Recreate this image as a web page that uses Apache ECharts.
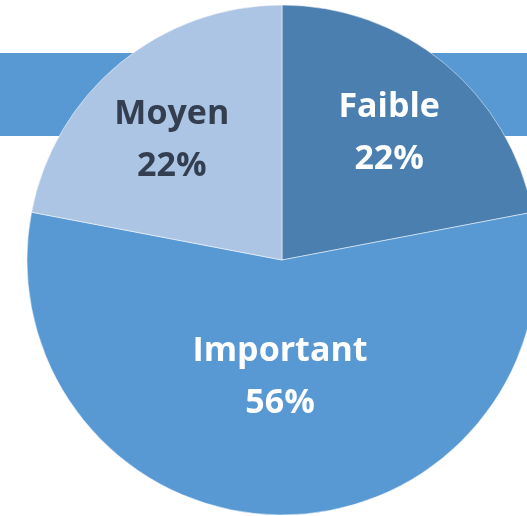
<!DOCTYPE html>
<html>
<head>
<meta charset="utf-8">
<script src="https://cdn.jsdelivr.net/npm/echarts@6/dist/echarts.min.js"></script>
<style>
  html, body { margin: 0; padding: 0; background: #fff; }
  #chart { width: 527px; height: 516px; }
</style>
</head>
<body>
<div id="chart"></div>
<script>
var names = ['Faible', 'Important', 'Moyen'];
var values = [22, 56, 22];
var colors = ['#4a7fb0', '#5899d4', '#adc5e5'];
var labelColors = ['#ffffff', '#ffffff', '#333f50'];
// decalage des etiquettes par rapport a la position "inside"
var labelOffsets = [[24, -26], [-2, -13], [-27, -19]];

var myChart = echarts.init(document.getElementById('chart'));

var option = {
  animation: false,
  graphic: [
    {
      type: 'rect',
      z: -10,
      shape: { x: 0, y: 53, width: 527, height: 83 },
      style: { fill: '#5899d4' }
    }
  ],
  series: [
    {
      type: 'pie',
      center: [282, 260],
      radius: 255,
      startAngle: 90,
      clockwise: true,
      itemStyle: { borderColor: '#ffffff', borderWidth: 0.5 },
      label: {
        position: 'inside',
        formatter: '{b}\n{d}%',
        fontFamily: 'Open Sans',
        fontWeight: 'bold',
        fontSize: 34,
        lineHeight: 52
      },
      labelLine: { show: false },
      data: names.map(function (n, i) {
        return {
          name: n,
          value: values[i],
          itemStyle: { color: colors[i] },
          label: { color: labelColors[i], offset: labelOffsets[i] }
        };
      })
    }
  ]
};

option && myChart.setOption(option);
</script>
</body>
</html>
